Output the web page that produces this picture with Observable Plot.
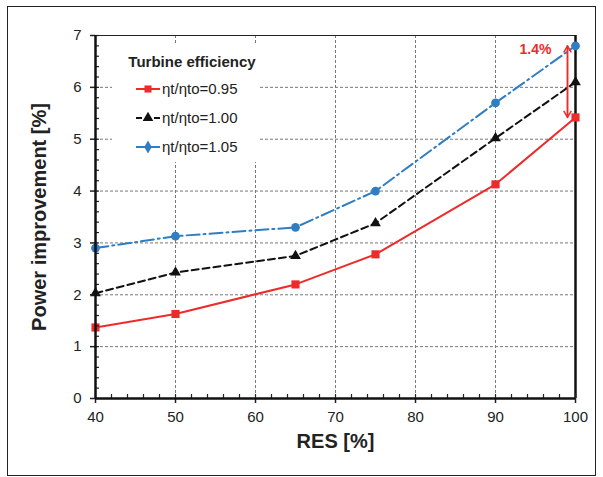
<!DOCTYPE html>
<html><head><meta charset="utf-8">
<script src="https://cdn.jsdelivr.net/npm/d3@7"></script>
<script src="https://cdn.jsdelivr.net/npm/@observablehq/plot@0.6"></script>
<style>
body{margin:0;background:#fff;font-family:"Liberation Sans",Arial,sans-serif;}
#wrap{position:relative;width:603px;height:477px;}
#frame{position:absolute;left:7px;top:6px;width:589px;height:470px;border:1.5px solid #222;box-sizing:border-box;pointer-events:none;}
#legend{position:absolute;left:112px;top:44px;width:146px;height:118px;background:#fff;}
</style></head>
<body><div id="wrap"><div id="frame"></div><div id="legend"></div></div>
<script>
const res = [40, 50, 65, 75, 90, 100];
const eff095 = [1.37, 1.63, 2.2, 2.78, 4.13, 5.42];
const eff100 = [2.03, 2.43, 2.75, 3.38, 5.02, 6.1];
const eff105 = [2.9, 3.13, 3.3, 4.0, 5.7, 6.8];
const seriesNames = ["ηt/ηto=0.95", "ηt/ηto=1.00", "ηt/ηto=1.05"];
const seriesColors = ["#ee2b2b", "#111111", "#2f7ec4"];
const seriesDash = [null, "7,4", "13,4,2,4"];
const seriesSymbols = ["square", "triangle", "circle"];
const xTicks = [40, 50, 60, 70, 80, 90, 100];
const yTicks = [0, 1, 2, 3, 4, 5, 6, 7];
const xMinor = d3.range(40, 100.1, 2);
const yMinor = d3.range(0, 7.01, 0.2);
const annX = 99;
const annTop = 6.8, annBottom = 5.42;
const annLabel = "1.4%";
const yLabel = "Power improvement [%]";
const xLabel = "RES [%]";
const legendTitle = "Turbine efficiency";

const allVals = [eff095, eff100, eff105];
const data = [];
allVals.forEach((vals, s) => res.forEach((r, i) => data.push({res: r, val: vals[i], s})));

const marks = [
  Plot.gridX(xTicks.filter(d => d > 40 && d < 100), {stroke: "#777", strokeOpacity: 1, strokeDasharray: "3,2", strokeWidth: 1}),
  Plot.gridY(yTicks.filter(d => d > 0 && d < 7), {stroke: "#777", strokeOpacity: 1, strokeDasharray: "3,2", strokeWidth: 1}),
  Plot.ruleY([7], {stroke: "#222", strokeWidth: 1}),
  Plot.ruleX([100], {stroke: "#111", strokeWidth: 2.5}),
];
allVals.forEach((vals, s) => {
  const d = data.filter(e => e.s === s);
  marks.push(Plot.line(d, {x: "res", y: "val", stroke: seriesColors[s], strokeWidth: 2, strokeDasharray: seriesDash[s]}));
});
allVals.forEach((vals, s) => {
  const d = data.filter(e => e.s === s);
  marks.push(Plot.dot(d, {x: "res", y: "val", fill: seriesColors[s], stroke: "none", symbol: seriesSymbols[s], r: s === 0 ? 4.6 : s === 1 ? 4 : 4.4}));
});
marks.push(
  Plot.arrow([{x: annX, y1: annTop, y2: annBottom}], {x1: "x", x2: "x", y1: "y1", y2: "y2", stroke: "#ee2b2b", strokeWidth: 1.5, headLength: 7, bend: 0}),
  Plot.arrow([{x: annX, y1: annBottom, y2: annTop}], {x1: "x", x2: "x", y1: "y1", y2: "y2", stroke: "#ee2b2b", strokeWidth: 1.5, headLength: 7, bend: 0}),
  Plot.text([{x: 95, y: 6.73, t: annLabel}], {x: "x", y: "y", text: "t", fill: "#ee2b2b", fontWeight: "bold", fontSize: 14}),
  Plot.axisY({ticks: yMinor, tickSize: -4, tickFormat: () => "", strokeWidth: 1.2, label: null}),
  Plot.axisX({ticks: xMinor, tickSize: -4, tickFormat: () => "", strokeWidth: 1.2, label: null}),
  Plot.axisY({ticks: yTicks, tickSize: 5, tickPadding: 9, fontSize: 15, tickFormat: d3.format("d"), label: null, strokeWidth: 1.5}),
  Plot.axisX({ticks: xTicks, tickSize: 5, tickPadding: 8, fontSize: 15, tickFormat: d3.format("d"), label: null, strokeWidth: 1.5}),
  Plot.ruleX([40], {stroke: "#111", strokeWidth: 2.5}),
  Plot.ruleY([0], {stroke: "#111", strokeWidth: 2.5}),
  Plot.text([yLabel], {frameAnchor: "left", textAnchor: "middle", lineAnchor: "middle", rotate: -90, dx: -56, text: d => d, fontSize: 20, fontWeight: "bold", fill: "#222"}),
  Plot.text([xLabel], {frameAnchor: "bottom", textAnchor: "middle", lineAnchor: "middle", dy: 43, text: d => d, fontSize: 20, fontWeight: "bold", fill: "#222"})
);

const chart = Plot.plot({
  width: 603, height: 477,
  marginLeft: 95, marginRight: 28, marginTop: 35, marginBottom: 79,
  x: {domain: [40, 100]},
  y: {domain: [0, 7]},
  style: {fontFamily: "'Liberation Sans', Arial, sans-serif", color: "#222", background: "transparent"},
  marks
});
const wrap = document.getElementById("wrap");
wrap.insertBefore(chart, wrap.firstChild);

// legend
const lg = document.getElementById("legend");
const svg = d3.select(lg).append("svg").attr("width", 146).attr("height", 118)
  .style("font-family", "'Liberation Sans', Arial, sans-serif");
svg.append("text").attr("x", 80).attr("y", 23).attr("text-anchor", "middle")
  .attr("font-weight", "bold").attr("font-size", 15).attr("fill", "#222").text(legendTitle);
seriesNames.forEach((name, s) => {
  const y = 45 + s * 29;
  svg.append("line").attr("x1", 24).attr("x2", 48).attr("y1", y).attr("y2", y)
    .attr("stroke", seriesColors[s]).attr("stroke-width", 2).attr("stroke-dasharray", s === 1 ? "6,3" : null);
  const sym = d3.symbol(s === 0 ? d3.symbolSquare : s === 1 ? d3.symbolTriangle : d3.symbolDiamond, 50);
  svg.append("path").attr("d", sym()).attr("transform", `translate(36,${y})`).attr("fill", seriesColors[s]);
  svg.append("text").attr("x", 50).attr("y", y + 5).attr("font-size", 15).attr("fill", "#222").text(name);
});
</script></body></html>
